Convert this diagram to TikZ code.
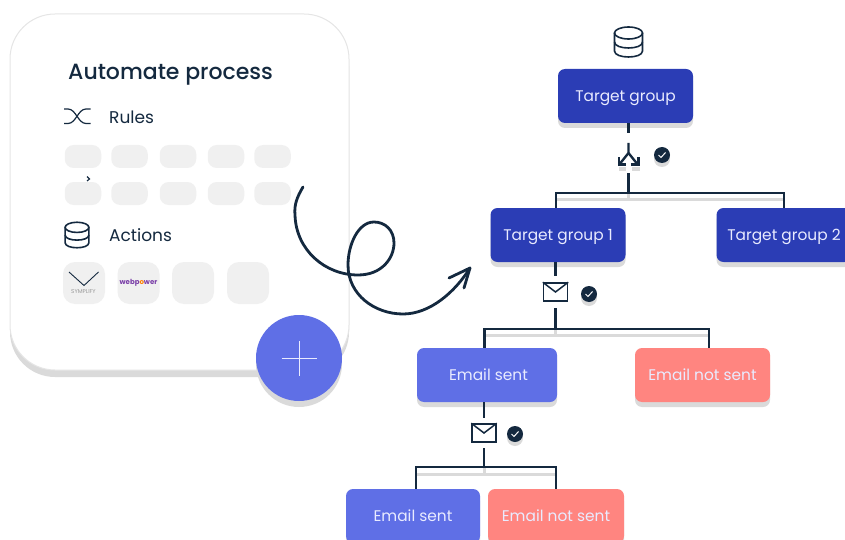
\documentclass[tikz,border=0pt]{standalone}
\usepackage{fontspec}
\setmainfont{Poppins}
\newfontfamily\mediumfont{Poppins Medium}
\usetikzlibrary{shadows,positioning}
\definecolor{navy}{HTML}{14293F}
\definecolor{deepblue}{HTML}{2B3DB5}
\definecolor{softblue}{HTML}{5F6FE6}
\definecolor{coral}{HTML}{FF8580}
\definecolor{tilegray}{HTML}{F0F0F0}
\definecolor{shadegray}{HTML}{DADADA}
\definecolor{paletext}{HTML}{E9EBFF}
\definecolor{webpurple}{HTML}{7A3FA8}
\begin{document}
\begin{tikzpicture}[x=1pt,y=-1pt]
  \tikzset{
    flowbox/.style={
      rectangle,
      rounded corners=7pt,
      minimum height=54pt,
      text=paletext,
      text height=10.5pt,
      text depth=0pt,
      font=\fontsize{15.4}{15.4}\selectfont,
      drop shadow={shadow xshift=0pt, shadow yshift=-5pt, fill=shadegray, opacity=1}
    },
    targetbox/.style={flowbox, fill=deepblue, minimum width=135pt},
    sentbox/.style={flowbox, fill=softblue},
    notsentbox/.style={flowbox, fill=coral},
    smalltile/.style={rectangle, fill=tilegray, rounded corners=9pt, minimum width=36.5pt, minimum height=23pt},
    bigtile/.style={rectangle, fill=tilegray, rounded corners=12pt, minimum width=42pt, minimum height=42pt},
    cardlabel/.style={anchor=west, text=navy, font=\fontsize{17}{17}\selectfont},
    link/.style={draw=navy, line width=2.9pt},
    busshadow/.style={draw=shadegray, line width=3pt},
    mailbox/.style={rectangle, draw=navy, fill=white, line width=1.5pt, minimum width=24pt, minimum height=18pt, inner sep=0pt},
    badge/.style={
      circle, fill=navy, minimum size=16pt, inner sep=0pt,
      drop shadow={shadow xshift=0pt, shadow yshift=-4pt, fill=shadegray, opacity=1}
    },
    slot/.style={rectangle, minimum width=20pt, inner sep=0pt},
    dbicon/.pic={
      \draw[navy, line width=1.6pt] (0,-9) ellipse [x radius=14, y radius=6];
      \draw[navy, line width=1.6pt] (-14,-9) -- (-14,9) .. controls (-14,17) and (14,17) .. (14,9) -- (14,-9);
      \draw[navy, line width=1.6pt] (-14,0) .. controls (-14,8) and (14,8) .. (14,0);
    },
    tick/.pic={
      \draw[white, line width=1pt] (-3.5,0) -- (-1,2.5) -- (3.5,-2.5);
    }
  }

  \useasboundingbox (0,0) rectangle (845,540);

  % left card
  \node[rectangle, draw=black!10, fill=white, line width=1pt, rounded corners=45pt,
        minimum width=339pt, minimum height=356pt,
        drop shadow={shadow xshift=0pt, shadow yshift=-7pt, fill=shadegray, opacity=1}] (card) at (179.5,192) {};
  \node[anchor=west, text=navy, font=\mediumfont\fontsize{22}{22}\selectfont, inner sep=0pt] (title) at (68,74.5) {Automate process};
  \node[cardlabel, inner sep=0pt] (rules) at (109,117.5) {Rules};
  \node[cardlabel, inner sep=0pt] (actions) at (109,235) {Actions};

  \draw[navy, line width=1.2pt] (64,109) -- (68,109) .. controls (76,109) and (78,123.5) .. (86,123.5) -- (90.5,123.5);
  \draw[navy, line width=1.2pt] (64,123.5) -- (68,123.5) .. controls (76,123.5) and (78,109) .. (86,109) -- (90.5,109);
  \pic[scale=0.85] at (77,235) {dbicon};

  \node[smalltile] (ruleA) at (83,156.5) {};
  \node[smalltile] (ruleB) at (129.5,156.5) {};
  \node[smalltile] (ruleC) at (178,156.5) {};
  \node[smalltile] (ruleD) at (226,156.5) {};
  \node[smalltile] (ruleE) at (272.5,156.5) {};
  \node[smalltile] (ruleF) at (83,193.5) {};
  \node[smalltile] (ruleG) at (129.5,193.5) {};
  \node[smalltile] (ruleH) at (178,193.5) {};
  \node[smalltile] (ruleI) at (226,193.5) {};
  \node[smalltile] (ruleJ) at (272.5,193.5) {};
  \draw[navy, line width=1.1pt] (87,176.5) -- (89.5,179) -- (87,181);

  \node[bigtile] (toolA) at (84,283) {};
  \node[bigtile] (toolB) at (138.5,283) {};
  \node[bigtile] (toolC) at (193,283) {};
  \node[bigtile] (toolD) at (248,283) {};
  \draw[navy, line width=0.9pt] (69,272) -- (84,285.5) -- (98.5,272);
  \node[text=black!40, font=\fontsize{5.6}{5.6}\selectfont, inner sep=0pt] (symplify) at (83.5,291.5) {SYMPLIFY};
  \node[text=webpurple, font=\bfseries\fontsize{7}{7}\selectfont, inner sep=0pt] (webpower) at (138.5,283) {webp\textcolor{orange}{o}wer};

  % hand drawn arrow
  \draw[navy, line width=2.8pt, line cap=round, line join=round] (303,187)
    .. controls (297,197) and (294,205) .. (295,215)
    .. controls (296,250) and (325,275) .. (358,275)
    .. controls (382,275) and (394,258) .. (394,243)
    .. controls (394,230) and (385,222) .. (374,222)
    .. controls (358,222) and (348,245) .. (348,265)
    .. controls (348,295) and (375,314) .. (403,314)
    .. controls (430,314) and (455,292) .. (470,268);
  \coordinate (curvetip) at (470,268);
  \draw[navy, line width=2.8pt, line cap=round, line join=round] (449,278) -- (curvetip) -- (464,288);

  % plus button
  \node[circle, fill=softblue, minimum size=86pt, inner sep=0pt,
        drop shadow={shadow xshift=0pt, shadow yshift=-6pt, fill=shadegray, opacity=1}] (plus) at (299,358) {};
  \draw[paletext, line width=0.9pt] ([xshift=-17.5pt]plus.center) -- ([xshift=17.5pt]plus.center);
  \draw[paletext, line width=0.9pt] ([yshift=-17.5pt]plus.center) -- ([yshift=17.5pt]plus.center);

  % flow boxes
  \pic at (628.5,42) {dbicon};
  \node[targetbox] (tg) at (625.5,96) {Target group};
  \node[targetbox] (tgone) at (558,235) {Target group 1};
  \node[targetbox] (tgtwo) at (784,235) {Target group 2};
  \node[sentbox, minimum width=140pt] (sent) at (487,375) {\hspace*{3pt}Email sent};
  \node[notsentbox, minimum width=135pt] (notsent) at (702.5,375) {Email not sent};
  \node[sentbox, minimum width=134pt] (sentlow) at (413,516) {Email sent};
  \node[notsentbox, minimum width=136pt] (notsentlow) at (556,516) {Email not sent};

  % icons on the links
  \node[slot, minimum height=40pt] (split) at (628.5,153) {};
  \node[mailbox] (mailone) at (555.5,292) {};
  \node[slot, minimum height=32pt] (mailoneslot) at (555.5,292) {};
  \node[mailbox] (mailtwo) at (484,433) {};
  \node[slot, minimum height=30pt] (mailtwoslot) at (484,433) {};
  \draw[navy, line width=1.5pt] (mailone.north west) -- (mailone.center) -- (mailone.north east);
  \draw[navy, line width=1.5pt] (mailtwo.north west) -- (mailtwo.center) -- (mailtwo.north east);

  \fill[shadegray] (618.5,167) rectangle (626,171.5);
  \fill[shadegray] (632,167) rectangle (640,171.5);
  \draw[navy, line width=2.4pt] (628.5,143) -- (628.5,153) -- (620.5,163);
  \draw[navy, line width=2.4pt] (628.5,153) -- (636.5,163);
  \draw[navy, line width=2.4pt] (619,157.5) -- (619,164.5) -- (626,164.5);
  \draw[navy, line width=2.4pt] (638.5,157.5) -- (638.5,164.5) -- (631,164.5);

  \node[badge] (checkA) at (662,155) {};
  \node[badge] (checkB) at (589,294) {};
  \node[badge] (checkC) at (515,434) {};
  \pic at (checkA) {tick};
  \pic at (checkB) {tick};
  \pic at (checkC) {tick};

  % bus junctions
  \coordinate (busA) at (628.5,193);
  \coordinate (busAleft) at (556,193);
  \coordinate (busB) at (555.5,329);
  \coordinate (busBleft) at (484.5,329);
  \coordinate (busBright) at (709,329);
  \coordinate (busC) at (484,467);
  \coordinate (busCleft) at (416,467);
  \coordinate (busCright) at (556,467);

  \draw[busshadow] ([yshift=-6pt]busAleft) -- ([yshift=-6pt]busAleft -| tgtwo.north);
  \draw[busshadow] (busA) -- ([yshift=-6pt]busA);
  \draw[busshadow] ([yshift=-6pt]busBleft) -- ([yshift=-6pt]busBright);
  \draw[busshadow] (busB) -- ([yshift=-6pt]busB);
  \draw[busshadow] ([yshift=-7pt]busCleft) -- ([yshift=-7pt]busCright);
  \draw[busshadow] (busC) -- ([yshift=-7pt]busC);

  % links
  \draw[link] (tg.south -| split) -- (split);
  \draw[link] (split) -- (busA);
  \draw[link] (tgone.north -| busAleft) |- (busA) -| (tgtwo.north);
  \draw[link] (tgone.south -| mailone) -- (mailoneslot);
  \draw[link] (mailoneslot) -- (busB);
  \draw[link] (sent.north -| busBleft) |- (busB) -| (notsent.north -| busBright);
  \draw[link] (sent.south -| mailtwo) -- (mailtwoslot);
  \draw[link] (mailtwoslot) -- (busC);
  \draw[link] (sentlow.north -| busCleft) |- (busC) -| (notsentlow.north -| busCright);
\end{tikzpicture}
\end{document}
